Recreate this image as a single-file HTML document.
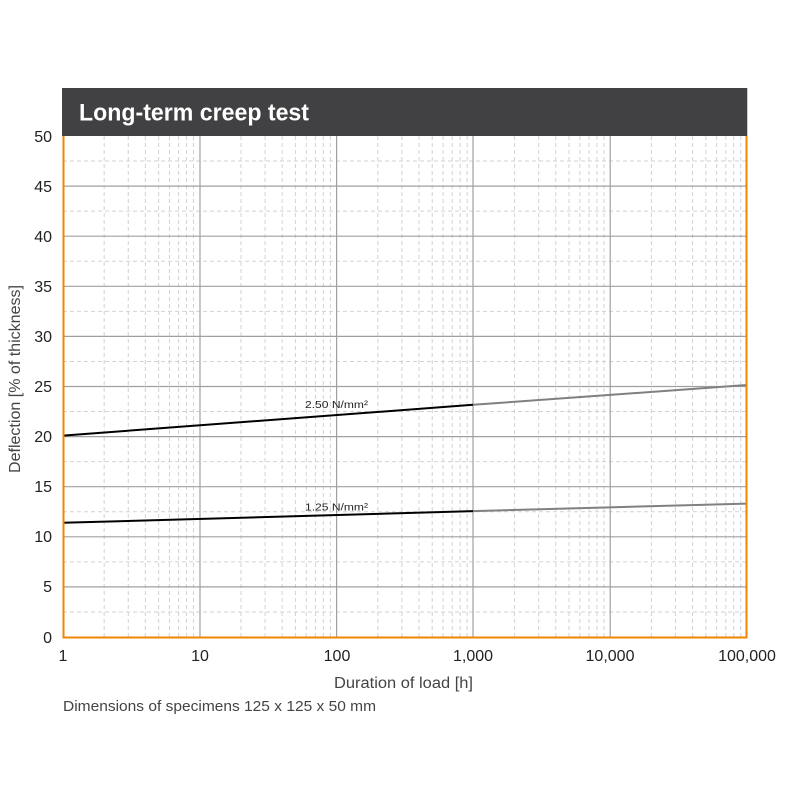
<!DOCTYPE html>
<html>
<head>
<meta charset="utf-8">
<style>
html,body{margin:0;padding:0;background:#fff;}
svg{display:block;}
text{font-family:"Liberation Sans",sans-serif;}
</style>
</head>
<body>
<svg width="800" height="800" viewBox="0 0 800 800" xmlns="http://www.w3.org/2000/svg">
<rect width="800" height="800" fill="#fff"/>
<!-- minor horizontal dashed -->
<g stroke="#d2d2d2" stroke-width="1" stroke-dasharray="4,3" fill="none">
<line x1="63" x2="747" y1="611.95" y2="611.95"/>
<line x1="63" x2="747" y1="561.85" y2="561.85"/>
<line x1="63" x2="747" y1="511.75" y2="511.75"/>
<line x1="63" x2="747" y1="461.65" y2="461.65"/>
<line x1="63" x2="747" y1="411.55" y2="411.55"/>
<line x1="63" x2="747" y1="361.45" y2="361.45"/>
<line x1="63" x2="747" y1="311.35" y2="311.35"/>
<line x1="63" x2="747" y1="261.25" y2="261.25"/>
<line x1="63" x2="747" y1="211.15" y2="211.15"/>
<line x1="63" x2="747" y1="161.05" y2="161.05"/>
</g>
<!-- minor vertical dashed -->
<g stroke="#d2d2d2" stroke-width="1" stroke-dasharray="4,3" fill="none">
<line y1="136" y2="637" x1="104.18" x2="104.18"/><line y1="136" y2="637" x1="128.27" x2="128.27"/><line y1="136" y2="637" x1="145.36" x2="145.36"/><line y1="136" y2="637" x1="158.62" x2="158.62"/><line y1="136" y2="637" x1="169.45" x2="169.45"/><line y1="136" y2="637" x1="178.61" x2="178.61"/><line y1="136" y2="637" x1="186.54" x2="186.54"/><line y1="136" y2="637" x1="193.54" x2="193.54"/>
<line y1="136" y2="637" x1="240.98" x2="240.98"/><line y1="136" y2="637" x1="265.07" x2="265.07"/><line y1="136" y2="637" x1="282.16" x2="282.16"/><line y1="136" y2="637" x1="295.42" x2="295.42"/><line y1="136" y2="637" x1="306.25" x2="306.25"/><line y1="136" y2="637" x1="315.41" x2="315.41"/><line y1="136" y2="637" x1="323.34" x2="323.34"/><line y1="136" y2="637" x1="330.34" x2="330.34"/>
<line y1="136" y2="637" x1="377.78" x2="377.78"/><line y1="136" y2="637" x1="401.87" x2="401.87"/><line y1="136" y2="637" x1="418.96" x2="418.96"/><line y1="136" y2="637" x1="432.22" x2="432.22"/><line y1="136" y2="637" x1="443.05" x2="443.05"/><line y1="136" y2="637" x1="452.21" x2="452.21"/><line y1="136" y2="637" x1="460.14" x2="460.14"/><line y1="136" y2="637" x1="467.14" x2="467.14"/>
<line y1="136" y2="637" x1="514.58" x2="514.58"/><line y1="136" y2="637" x1="538.67" x2="538.67"/><line y1="136" y2="637" x1="555.76" x2="555.76"/><line y1="136" y2="637" x1="569.02" x2="569.02"/><line y1="136" y2="637" x1="579.85" x2="579.85"/><line y1="136" y2="637" x1="589.01" x2="589.01"/><line y1="136" y2="637" x1="596.94" x2="596.94"/><line y1="136" y2="637" x1="603.94" x2="603.94"/>
<line y1="136" y2="637" x1="651.38" x2="651.38"/><line y1="136" y2="637" x1="675.47" x2="675.47"/><line y1="136" y2="637" x1="692.56" x2="692.56"/><line y1="136" y2="637" x1="705.82" x2="705.82"/><line y1="136" y2="637" x1="716.65" x2="716.65"/><line y1="136" y2="637" x1="725.81" x2="725.81"/><line y1="136" y2="637" x1="733.74" x2="733.74"/><line y1="136" y2="637" x1="740.74" x2="740.74"/>
</g>
<!-- major grid -->
<g stroke="#a0a0a0" stroke-width="1.2" fill="none">
<line x1="63" x2="747" y1="586.9" y2="586.9"/>
<line x1="63" x2="747" y1="536.8" y2="536.8"/>
<line x1="63" x2="747" y1="486.7" y2="486.7"/>
<line x1="63" x2="747" y1="436.6" y2="436.6"/>
<line x1="63" x2="747" y1="386.5" y2="386.5"/>
<line x1="63" x2="747" y1="336.4" y2="336.4"/>
<line x1="63" x2="747" y1="286.3" y2="286.3"/>
<line x1="63" x2="747" y1="236.2" y2="236.2"/>
<line x1="63" x2="747" y1="186.1" y2="186.1"/>
<line y1="136" y2="637" x1="200" x2="200"/>
<line y1="136" y2="637" x1="336.6" x2="336.6"/>
<line y1="136" y2="637" x1="473" x2="473"/>
<line y1="136" y2="637" x1="610.2" x2="610.2"/>
</g>
<!-- series -->
<g fill="none" stroke-width="2" stroke-linecap="butt">
<line x1="63" y1="435.6" x2="473" y2="404.8" stroke="#000"/>
<line x1="473" y1="404.8" x2="747" y2="385" stroke="#808080"/>
<line x1="63" y1="522.8" x2="473" y2="511.1" stroke="#000"/>
<line x1="473" y1="511.1" x2="747" y2="503.6" stroke="#808080"/>
</g>
<text x="305" y="408" font-size="10.5" fill="#222" textLength="63" lengthAdjust="spacingAndGlyphs">2.50 N/mm²</text>
<text x="305" y="510.5" font-size="10.5" fill="#222" textLength="63" lengthAdjust="spacingAndGlyphs">1.25 N/mm²</text>
<!-- orange frame -->
<g stroke="#f08600" stroke-width="2" fill="none">
<line x1="63.5" y1="88" x2="63.5" y2="638"/>
<line x1="746.5" y1="88" x2="746.5" y2="638"/>
<line x1="62.5" y1="637.5" x2="747.5" y2="637.5"/>
</g>
<!-- title bar -->
<rect x="62" y="88" width="685" height="48" fill="#414042"/>
<text x="79" y="120.5" font-size="24" font-weight="bold" fill="#fff" textLength="230" lengthAdjust="spacingAndGlyphs">Long-term creep test</text>
<!-- y ticks -->
<g font-size="16" fill="#222" text-anchor="end">
<text x="52" y="142">50</text>
<text x="52" y="192">45</text>
<text x="52" y="242">40</text>
<text x="52" y="292">35</text>
<text x="52" y="342">30</text>
<text x="52" y="392">25</text>
<text x="52" y="442">20</text>
<text x="52" y="492">15</text>
<text x="52" y="542">10</text>
<text x="52" y="592">5</text>
<text x="52" y="643">0</text>
</g>
<!-- x ticks -->
<g font-size="16" fill="#222" text-anchor="middle">
<text x="63" y="661">1</text>
<text x="200" y="661">10</text>
<text x="337" y="661">100</text>
<text x="473" y="661">1,000</text>
<text x="610" y="661">10,000</text>
<text x="747" y="661">100,000</text>
</g>
<text x="334" y="688" font-size="15.5" fill="#444" textLength="139" lengthAdjust="spacingAndGlyphs">Duration of load  [h]</text>
<text transform="translate(20,473) rotate(-90)" font-size="15.5" fill="#444" textLength="188" lengthAdjust="spacingAndGlyphs">Deflection [% of thickness]</text>
<text x="63" y="711" font-size="14.5" fill="#444" textLength="313" lengthAdjust="spacingAndGlyphs">Dimensions of specimens 125 x 125 x 50 mm</text>
</svg>
</body>
</html>
